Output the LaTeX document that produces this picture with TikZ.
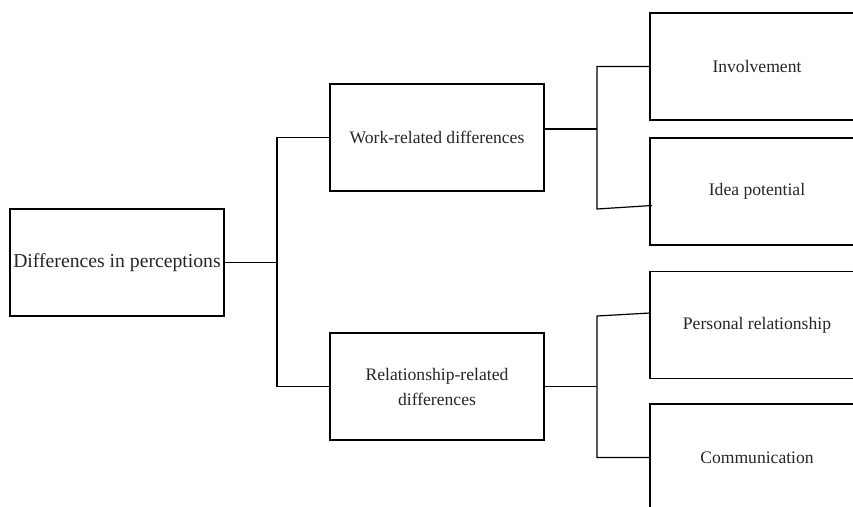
\documentclass[tikz,border=0pt]{standalone}
\usepackage{fontspec}
\setmainfont{Liberation Serif}
\begin{document}
\begin{tikzpicture}[x=1pt,y=-1pt,
  box/.style={draw=black,line width=1.2pt,minimum width=214pt,minimum height=107pt,inner sep=0pt,align=center,text=black!85,font=\fontsize{17.6}{25}\selectfont},
  rootbox/.style={box,font=\fontsize{19.7}{24}\selectfont},
  conn/.style={draw=black,line width=1.2pt}]
\useasboundingbox (0,0) rectangle (853,506);
\clip (0,0) rectangle (853,506);
\fill[white] (0,0) rectangle (853,506);
\node[rootbox] (root) at (117,262.5) {Differences in perceptions};
\node[box] (work) at (437,137.5) {Work-related differences};
\node[box] (rel) at (437,386.5) {Relationship-related\\differences};
\node[box] (inv) at (757,66.5) {Involvement};
\node[box] (idea) at (757,191.5) {Idea potential};
\node[box] (pers) at (757,325) {Personal relationship};
\node[box] (comm) at (757,457.5) {Communication};
\coordinate (j1) at (277,262.5);
\coordinate (j2) at (597,129);
\coordinate (j3) at (597,386.5);
\coordinate (ideaend) at (597,209);
\coordinate (ideain) at (652,205.5);
\coordinate (persend) at (597,316);
\coordinate (persin) at (650,313);
\draw[conn] (root.east) -- (j1);
\draw[conn] (work.west) -| (j1) |- (rel.west);
\draw[conn] (work.east |- j2) -- (j2);
\draw[conn] (inv.west) -| (ideaend) -- (ideain);
\draw[conn] (rel.east) -- (j3);
\draw[conn] (persin) -- (persend) |- (comm.west);
\end{tikzpicture}
\end{document}
